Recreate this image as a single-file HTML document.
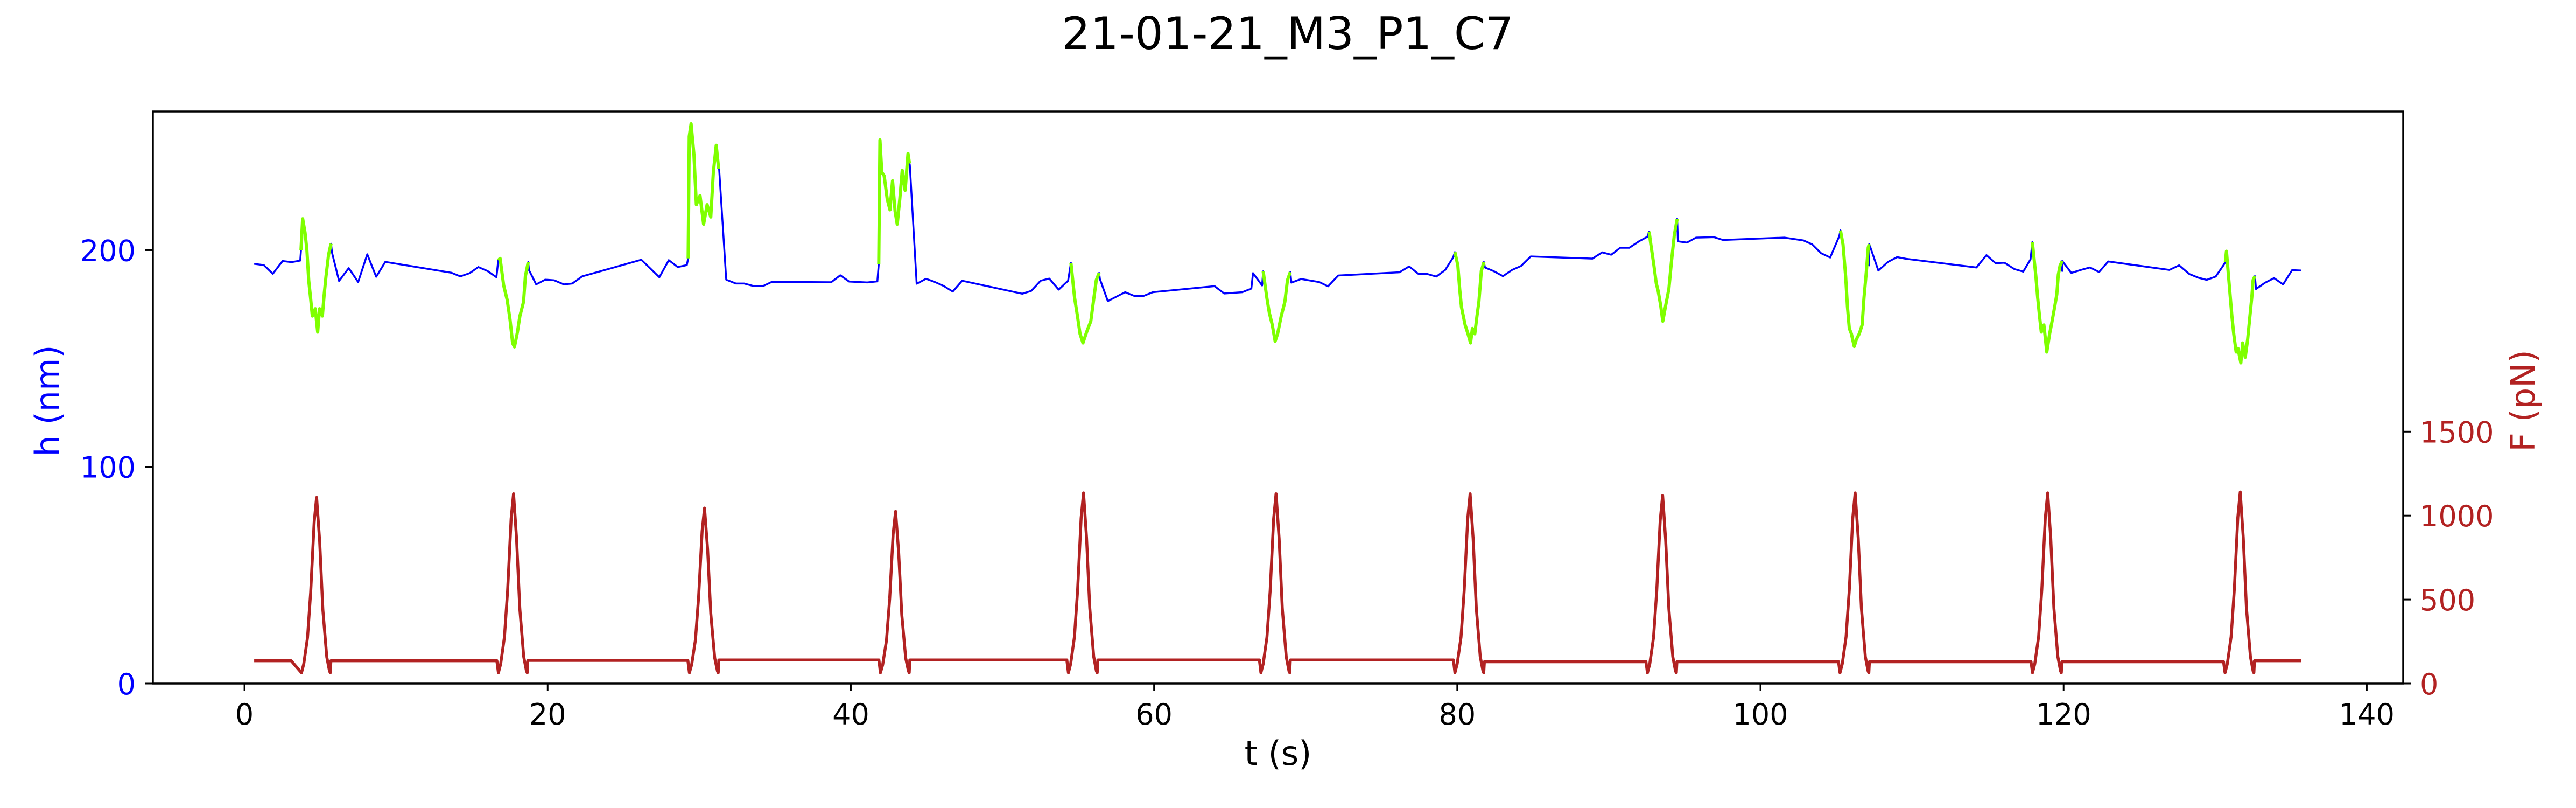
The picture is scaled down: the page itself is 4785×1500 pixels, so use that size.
<!DOCTYPE html>
<html><head><meta charset="utf-8"><title>21-01-21_M3_P1_C7</title>
<style>
html,body{margin:0;padding:0;background:#fff;}
svg{display:block;}
text{font-family:"DejaVu Sans","Liberation Sans",sans-serif;}
</style></head>
<body>
<svg id="chart" xmlns="http://www.w3.org/2000/svg" width="4785" height="1500" viewBox="0 0 4785 1500">
<rect x="0" y="0" width="4785" height="1500" fill="#fff"/>
<text x="2392" y="91" font-size="83" text-anchor="middle" fill="#000">21-01-21_M3_P1_C7</text>
<g id="series"></g>
<rect x="284" y="207" width="4180" height="1062" fill="none" stroke="#000" stroke-width="3.5"/>
<g id="xticks"></g>
<g id="yticks"></g>
<g id="fticks"></g>
<text x="2374" y="1420" font-size="62" text-anchor="middle" fill="#000">t (s)</text>
<text x="0" y="0" font-size="62" text-anchor="middle" fill="#0000ff" transform="translate(110,744) rotate(-90)">h (nm)</text>
<text x="0" y="0" font-size="62" text-anchor="middle" fill="#b22222" transform="translate(4708,744) rotate(-90)">F (pN)</text>
</svg>
<script>
const xTicks = [0,20,40,60,80,100,120,140];
const hTicks = [0,100,200];
const fTicks = [0,500,1000,1500];
const blueT = [0.64,1.28,1.87,2.52,3.11,3.68,3.73,5.78,6.24,6.88,7.5,8.1,8.69,9.29,13.64,14.24,14.86,15.43,16.03,16.62,16.74,18.77,19.24,19.84,20.43,21.07,21.62,22.28,26.18,27.37,27.99,28.58,29.18,29.27,31.31,31.78,32.42,32.97,33.61,34.2,34.8,38.7,39.3,39.89,41.08,41.75,41.84,43.89,44.34,44.96,45.48,46.12,46.72,47.34,51.31,51.9,52.52,53.09,53.71,54.33,54.52,56.43,56.95,58.09,58.73,59.28,59.92,63.99,64.63,65.82,66.42,66.53,67.13,69.06,69.7,70.89,71.48,72.15,76.19,76.83,77.43,78.02,78.62,79.21,79.73,81.83,82.38,83.02,83.62,84.21,84.85,88.92,89.56,90.16,90.75,91.35,91.99,92.54,94.56,95.15,95.75,96.94,97.53,101.58,102.84,103.41,104.0,104.6,105.2,107.18,107.78,108.42,109.02,109.61,114.25,114.91,115.51,116.1,116.75,117.34,117.82,119.91,120.51,121.15,121.74,122.34,122.94,126.98,127.62,128.29,128.88,129.43,130.03,130.55,132.69,133.29,133.88,134.48,135.07,135.67];
const blueH = [193.7,193.1,189.1,195.0,194.5,195.2,200,198.8,185.8,191.7,185.3,198.1,187.7,194.6,189.6,187.9,189.4,192.2,190.4,187.5,195.3,190.8,184.2,186.4,186.1,184.2,184.6,187.9,195.6,187.5,195.4,192.2,193.1,196.2,237.6,186.4,184.6,184.6,183.4,183.4,185.4,185.2,188.4,185.5,185.1,185.6,193.6,239.3,184.5,186.8,185.5,183.5,180.9,185.9,179.9,181.2,185.9,186.9,181.8,185.9,194.1,186.7,176.5,180.6,178.8,178.8,180.6,183.4,180,180.6,182.3,189.4,183.7,185,186.7,185.3,183.3,188.3,189.8,192.5,189.1,189,187.8,190.9,196.6,192,190.4,188,190.9,192.7,197.1,196.1,199,197.9,201.1,201.1,204.1,206.2,204.1,203.5,205.8,206,204.7,205.8,204.5,202.7,198.6,196.6,206.5,193,190.6,194.6,196.8,196,192,197.7,194,194.2,191.3,190.1,195.8,190.4,189.5,190.9,192,189.9,194.8,190.9,193,189,187.3,186.3,187.8,193.1,182.1,185,187.1,184.2,190.8,190.6];
const greenT = [
 [3.73,3.84,4.0,4.12,4.24,4.36,4.48,4.67,4.83,4.95,5.14,5.26,5.38,5.55,5.71],
 [16.74,16.86,17.1,17.33,17.52,17.69,17.81,18.0,18.17,18.41,18.53,18.72],
 [29.27,29.34,29.46,29.65,29.81,30.05,30.29,30.52,30.76,30.93,31.12,31.28],
 [41.84,41.92,42.04,42.2,42.4,42.58,42.75,42.92,43.06,43.23,43.39,43.58,43.77,43.87],
 [54.52,54.76,54.95,55.12,55.31,55.59,55.83,56.0,56.19,56.38],
 [67.2,67.44,67.6,67.8,67.99,68.15,68.39,68.63,68.8,68.99],
 [79.85,80.04,80.16,80.28,80.52,80.71,80.88,81.0,81.16,81.3,81.43,81.59,81.76],
 [92.66,92.77,92.96,93.13,93.25,93.42,93.56,93.73,93.96,94.13,94.32,94.51],
 [105.28,105.45,105.62,105.74,105.86,106.0,106.19,106.33,106.52,106.71,106.83,106.99,107.11,107.18],
 [117.94,118.05,118.17,118.29,118.41,118.53,118.7,118.89,119.08,119.24,119.41,119.55,119.65,119.77,119.91],
 [130.67,130.74,130.86,130.98,131.1,131.22,131.38,131.5,131.69,131.81,131.98,132.14,132.29,132.41,132.5,132.62]
];
const greenH = [
 [200,214.5,208,200,186,178,169.6,173,162.2,173,169.6,179.6,188,198,203],
 [195.3,196.2,183.7,177,167.9,157.1,155.4,162,169.6,176.2,188,194.5],
 [196.2,252.5,258.3,244.2,221,225.2,212,221,215.3,236,248.4,237.6],
 [193.6,250.9,236,234.3,223.6,218.6,232,217.8,212,223.6,236.8,227.6,244.6,240],
 [194.1,178,169.6,161.4,157.2,163,167.2,176.2,186.2,189.5],
 [190.2,178,171.2,165.5,158,161.4,169.6,176.2,186.2,189.9],
 [199.1,192.9,182.1,173.8,165.5,161.4,157.2,163.9,161.4,169.6,176.2,190.4,194.5],
 [208.6,202.8,193.7,184.6,181.3,174.6,167.2,173.8,182.1,194.5,207,214.4],
 [209.1,202.6,188,173.8,163.9,161.4,155.6,158.9,161.4,165.5,178,190.4,201.2,202.8],
 [203.7,196.2,188,178,169.6,162.2,165.5,153,161.4,167.2,173.8,179.6,188.7,192.9,195],
 [194.6,199.5,189.6,179.6,169.6,161.4,153,154.7,148,157.2,150.6,158.9,169.6,178,186.2,188]
];
const peakT = [4.76,17.75,30.35,42.95,55.35,68.05,80.85,93.55,106.25,118.95,131.65];
const peakF = [1108,1130,1045,1025,1135,1130,1130,1120,1135,1135,1140];
const baseF = [136,136,138,140,140,140,140,130,130,130,130,136];
const dipLead = [1.68,1.1,1.1,1.1,1.1,1.1,1.1,1.1,1.1,1.1,1.1];
const troughF = 64;
const forceStart = 0.64, forceEnd = 135.67;

const shapeRel = [-1.0,-0.85,-0.6,-0.39,-0.16,0,0.2,0.41,0.67,0.85,0.9];
const shapeFrac = [0,0.05,0.2,0.46,0.86,1,0.75,0.36,0.09,0.01,0];

const X0=284, X1=4464, Y0=1269, Y1=207;
const tMin=-6.04, tMax=142.4, hMax=264.0, fMax=3406;
function xs(t){return X0+(t-tMin)/(tMax-tMin)*(X1-X0);}
function ys(h){return Y0-h/hMax*(Y0-Y1);}
function yf(f){return Y0-f/fMax*(Y0-Y1);}
const NS="http://www.w3.org/2000/svg";
function mk(tag,attrs,parent){const e=document.createElementNS(NS,tag);for(const k in attrs)e.setAttribute(k,attrs[k]);parent.appendChild(e);return e;}
function pathFrom(T,V,sc){let d="";for(let i=0;i<T.length;i++){d+=(i?"L":"M")+xs(T[i]).toFixed(1)+" "+sc(V[i]).toFixed(1);}return d;}

const series=document.getElementById('series');
const clip=mk('clipPath',{id:'clipA'},mk('defs',{},series));
mk('rect',{x:X0,y:Y1,width:X1-X0,height:Y0-Y1},clip);
const g=mk('g',{'clip-path':'url(#clipA)'},series);

const fT=[forceStart], fV=[baseF[0]];
for(let i=0;i<peakT.length;i++){
  fT.push(peakT[i]-dipLead[i]); fV.push(baseF[i]);
  for(let k=0;k<shapeRel.length;k++){fT.push(peakT[i]+shapeRel[k]); fV.push(troughF+shapeFrac[k]*(peakF[i]-troughF));}
  fT.push(peakT[i]+0.94); fV.push(baseF[i+1]);
}
fT.push(forceEnd); fV.push(baseF[baseF.length-1]);
const fp=mk('path',{d:pathFrom(fT,fV,yf),fill:'none',stroke:'#b22222','stroke-width':5.5,'stroke-linejoin':'round'},g);



// blue: merge green points so blue follows the data under green
const merged=[];
for(let i=0;i<blueT.length;i++) merged.push([blueT[i],blueH[i]]);
for(let s=0;s<greenT.length;s++) for(let k=0;k<greenT[s].length;k++) merged.push([greenT[s][k],greenH[s][k]]);
merged.sort((a,b)=>a[0]-b[0]);
const bp=mk('path',{d:pathFrom(merged.map(p=>p[0]),merged.map(p=>p[1]),ys),fill:'none',stroke:'#0000ff','stroke-width':3.5,'stroke-linejoin':'round'},g);



for(let s=0;s<greenT.length;s++){
  const gp=mk('path',{d:pathFrom(greenT[s],greenH[s],ys),fill:'none',stroke:'#7fff00','stroke-width':6,'stroke-linejoin':'round'},g);
  
  
}

const xg=document.getElementById('xticks');
for(const t of xTicks){
  const x=xs(t);
  const l=mk('line',{x1:x,x2:x,y1:Y0,y2:Y0+14,stroke:'#000','stroke-width':3},xg);
  
  
  const tx=mk('text',{x:x,y:1345,'font-size':54,'text-anchor':'middle',fill:'#000'},xg);
  tx.textContent=t;
  
  
}
const yg=document.getElementById('yticks');
for(const h of hTicks){
  const y=ys(h);
  const l=mk('line',{x1:X0-14,x2:X0,y1:y,y2:y,stroke:'#000','stroke-width':3},yg);
  
  
  const tx=mk('text',{x:252,y:y+20,'font-size':54,'text-anchor':'end',fill:'#0000ff'},yg);
  tx.textContent=h;
  
  
}
const fg=document.getElementById('fticks');
for(const f of fTicks){
  const y=yf(f);
  const l=mk('line',{x1:X1,x2:X1+14,y1:y,y2:y,stroke:'#000','stroke-width':3},fg);
  
  
  const tx=mk('text',{x:4495,y:y+20,'font-size':54,'text-anchor':'start',fill:'#b22222'},fg);
  tx.textContent=f;
  
  
}
</script>
</body></html>
